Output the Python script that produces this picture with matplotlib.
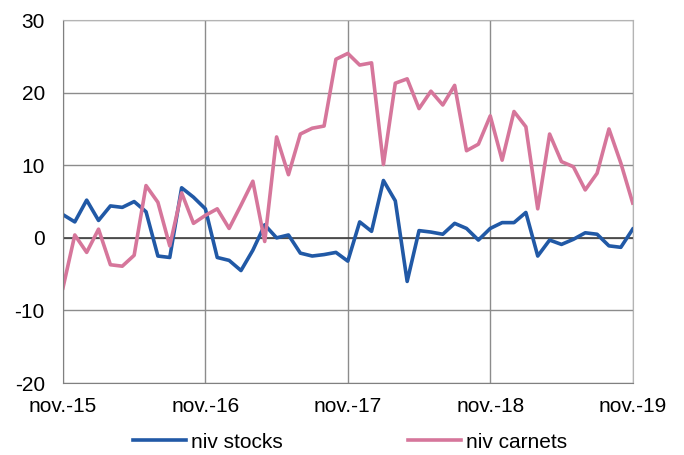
import numpy as np
import matplotlib.pyplot as plt

plt.rcParams['font.family'] = ['Liberation Sans', 'DejaVu Sans']
plt.rcParams['axes.unicode_minus'] = False

# monthly values, nov-15 .. nov-19
niv_stocks = [3.2, 2.2, 5.2, 2.4, 4.4, 4.2, 5.0, 3.6, -2.5, -2.7, 6.9, 5.6,
              4.0, -2.7, -3.1, -4.5, -1.7, 1.8, 0.0, 0.4, -2.1, -2.5, -2.3, -2.0,
              -3.2, 2.2, 0.9, 7.9, 5.1, -6.0, 1.0, 0.8, 0.5, 2.0, 1.3, -0.3,
              1.3, 2.1, 2.1, 3.5, -2.5, -0.3, -0.9, -0.2, 0.7, 0.5, -1.1, -1.3,
              1.2]
niv_carnets = [-6.9, 0.4, -2.0, 1.2, -3.7, -3.9, -2.4, 7.2, 4.9, -1.1, 6.2, 2.0,
               3.1, 4.0, 1.3, 4.5, 7.8, -0.5, 13.9, 8.7, 14.3, 15.1, 15.4, 24.6,
               25.4, 23.8, 24.1, 10.1, 21.3, 21.9, 17.8, 20.2, 18.3, 21.0, 12.0, 12.9,
               16.8, 10.7, 17.4, 15.3, 4.0, 14.3, 10.5, 9.8, 6.6, 8.9, 15.0, 10.3,
               4.8]
x_labels = ['nov.-15', 'nov.-16', 'nov.-17', 'nov.-18', 'nov.-19']
y_ticks = [-20, -10, 0, 10, 20, 30]

months = np.arange(len(niv_stocks))

fig = plt.figure(figsize=(6.84, 4.55), dpi=100)
ax = fig.add_axes([0.092, 0.158, 0.833, 0.798])

ax.plot(months, niv_stocks, color='#2159a6', lw=2.6, label='niv stocks')
ax.plot(months, niv_carnets, color='#d6769b', lw=2.6, label='niv carnets')

ax.set_xlim(0, 48)
ax.set_ylim(-20, 30)
ax.set_xticks(np.arange(0, 49, 12))
ax.set_xticklabels(x_labels)
ax.set_yticks(y_ticks)
ax.tick_params(length=0, labelsize=15)
ax.tick_params(axis='x', pad=10)
ax.tick_params(axis='y', pad=13)

ax.grid(True, color='#8c8c8c', lw=1)
ax.axhline(0, color='#404040', lw=1.2, zorder=1.5)
for s in ['top', 'right']:
    ax.spines[s].set_color('#b4b4b4')
for s in ['left', 'bottom']:
    ax.spines[s].set_color('#808080')
ax.set_axisbelow(True)

fig.legend(loc='center', ncol=2, frameon=False, fontsize=15,
           bbox_to_anchor=(0.512, 0.028), columnspacing=6.0, handlelength=2.55,
           handletextpad=0.25)

fig.savefig('out.png', dpi=100)
